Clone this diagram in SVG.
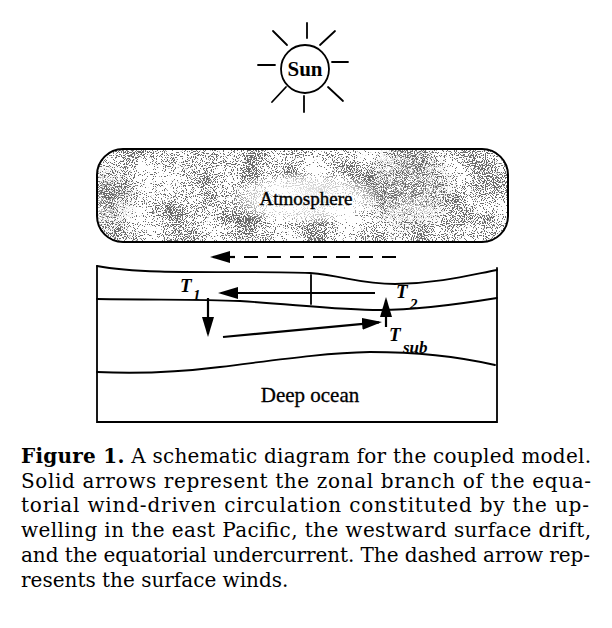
<svg xmlns="http://www.w3.org/2000/svg" width="612" height="628" viewBox="0 0 612 628">
<style>
.ln{fill:none;stroke:#000;stroke-width:1.8;stroke-linecap:round}
.arr{fill:none;stroke:#000;stroke-width:2.2}
.lbl{font-family:"Liberation Serif","Times New Roman",serif;fill:#000}
.tv{font-family:"Liberation Serif","Times New Roman",serif;font-style:italic;font-weight:bold;fill:#000}
.cap{font-family:"DejaVu Serif","Liberation Serif",serif;font-size:20px;fill:#000}
</style>
<defs>
<marker id="ah" viewBox="0 0 20 12" refX="17" refY="6" markerWidth="20" markerHeight="12" markerUnits="userSpaceOnUse" orient="auto">
<path d="M0,0 L20,6 L0,12 z" fill="#000"/>
</marker>
<filter id="speckle" x="0" y="0" width="1" height="1">
<feTurbulence type="fractalNoise" baseFrequency="0.9" numOctaves="1" seed="5" result="f0"/>
<feColorMatrix in="f0" type="matrix" values="1 0 0 0 0  1 0 0 0 0  1 0 0 0 0  0 0 0 0 1" result="fine"/>
<feTurbulence type="fractalNoise" baseFrequency="0.03" numOctaves="3" seed="12" result="c0"/>
<feColorMatrix in="c0" type="matrix" values="1 0 0 0 0  1 0 0 0 0  1 0 0 0 0  0 0 0 0 1" result="coarse"/>
<feComposite in="fine" in2="coarse" operator="arithmetic" k1="0" k2="0.72" k3="0.28" k4="0" result="sum"/>
<feColorMatrix in="sum" type="matrix" values="0 0 0 0 0.15  0 0 0 0 0.15  0 0 0 0 0.15  40 0 0 0 -21.6" result="dots"/>
<feComposite in="dots" in2="SourceGraphic" operator="in"/>
</filter>
<filter id="speckle2" x="0" y="0" width="1" height="1">
<feTurbulence type="fractalNoise" baseFrequency="0.9" numOctaves="1" seed="21" result="f0"/>
<feColorMatrix in="f0" type="matrix" values="0 0 0 0 0.15  0 0 0 0 0.15  0 0 0 0 0.15  30 0 0 0 -15" result="dots"/>
<feComposite in="dots" in2="SourceGraphic" operator="in"/>
</filter>
<radialGradient id="darkR" cx="408" cy="188" r="48" gradientUnits="userSpaceOnUse">
<stop offset="0" stop-color="#fff" stop-opacity="0.85"/>
<stop offset="1" stop-color="#fff" stop-opacity="0"/>
</radialGradient>
<radialGradient id="darkL" cx="100" cy="200" r="40" gradientUnits="userSpaceOnUse">
<stop offset="0" stop-color="#fff" stop-opacity="0.6"/>
<stop offset="1" stop-color="#fff" stop-opacity="0"/>
</radialGradient>
<radialGradient id="clear" cx="306" cy="198" r="60" gradientUnits="userSpaceOnUse" gradientTransform="translate(306 198) scale(1.3 0.45) translate(-306 -198)">
<stop offset="0" stop-color="#fff" stop-opacity="0.95"/>
<stop offset="0.7" stop-color="#fff" stop-opacity="0.6"/>
<stop offset="1" stop-color="#fff" stop-opacity="0"/>
</radialGradient>
<mask id="mDark" maskUnits="userSpaceOnUse" x="0" y="0" width="612" height="628">
<rect x="0" y="0" width="612" height="628" fill="url(#darkR)"/>
<rect x="0" y="0" width="612" height="628" fill="url(#darkL)"/>
</mask>
</defs>

<g id="sun">
<circle cx="305" cy="69" r="24" class="ln"/>
<path class="ln" d="M307,23 L307,38 M304,96 L304,112 M258,65 L275,65 M332,62 L348,62 M273,31 L287,45 M335,31 L320,45 M272,102 L286,87 M343,101 L328,87"/>
<text class="lbl" x="305" y="76" font-size="21" font-weight="bold" text-anchor="middle">Sun</text>
</g>

<g id="atmosphere">
<rect x="97" y="149" width="411" height="93" rx="26" fill="#fff"/>
<rect x="97" y="149" width="411" height="93" rx="26" fill="#000" filter="url(#speckle)"/>
<g mask="url(#mDark)">
<rect x="97" y="149" width="411" height="93" rx="26" fill="#000" filter="url(#speckle2)"/>
</g>
<rect x="97" y="149" width="411" height="93" rx="26" fill="url(#clear)"/>
<rect x="97" y="149" width="411" height="93" rx="26" fill="none" stroke="#000" stroke-width="2"/>
<text class="lbl" x="306" y="205" font-size="19" text-anchor="middle" stroke="#000" stroke-width="0.4">Atmosphere</text>
</g>

<g id="ocean">
<path class="ln" d="M97,266 V422 H497 V268"/>
<path class="ln" d="M97,266 C150,276 250,270 310,273 C345,276 360,284 395,284 C440,283 470,275 497,270"/>
<path class="ln" d="M97,299 C160,300 200,299 240,301 C300,305 340,310 380,310 C420,310 460,304 497,298"/>
<path class="ln" d="M97,372 C140,374 180,372 220,367 C270,361 320,353 370,352 C420,352 460,357 495,365"/>
<path class="ln" d="M311,275 V304"/>
<text class="lbl" x="310" y="402" font-size="21" text-anchor="middle" stroke="#000" stroke-width="0.3">Deep ocean</text>
</g>

<g id="labels">
<text class="tv" x="180" y="292" font-size="19">T</text>
<text class="tv" x="193" y="300" font-size="15" font-style="normal">1</text>
<text class="tv" x="396" y="298" font-size="19">T</text>
<text class="tv" x="410" y="309" font-size="15" font-style="normal">2</text>
<text class="tv" x="389" y="341" font-size="19">T</text>
<text class="tv" x="403" y="353" font-size="17">sub</text>
</g>

<g id="connectors">
<path class="arr" d="M396,257 H230" stroke-dasharray="14 9"/>
<path class="arr" d="M235,257 H213" marker-end="url(#ah)"/>
<path class="arr" d="M375,293 H221" marker-end="url(#ah)"/>
<path class="arr" d="M208,298 V334" marker-end="url(#ah)"/>
<path class="arr" d="M223,337 L379,322.3" marker-end="url(#ah)"/>
<path class="arr" d="M386,327 V300" marker-end="url(#ah)"/>
</g>

<g id="caption">
<text class="cap" x="21" y="463" textLength="570" lengthAdjust="spacing"><tspan font-weight="bold">Figure 1.</tspan> A schematic diagram for the coupled model.</text>
<text class="cap" x="21" y="487.7" textLength="570" lengthAdjust="spacing">Solid arrows represent the zonal branch of the equa-</text>
<text class="cap" x="21" y="512.4" textLength="568" lengthAdjust="spacing">torial wind-driven circulation constituted by the up-</text>
<text class="cap" x="21" y="537" textLength="570" lengthAdjust="spacing">welling in the east Pacific, the westward surface drift,</text>
<text class="cap" x="21" y="561.8" textLength="569" lengthAdjust="spacing">and the equatorial undercurrent. The dashed arrow rep-</text>
<text class="cap" x="21" y="586.5">resents the surface winds.</text>
</g>
</svg>
